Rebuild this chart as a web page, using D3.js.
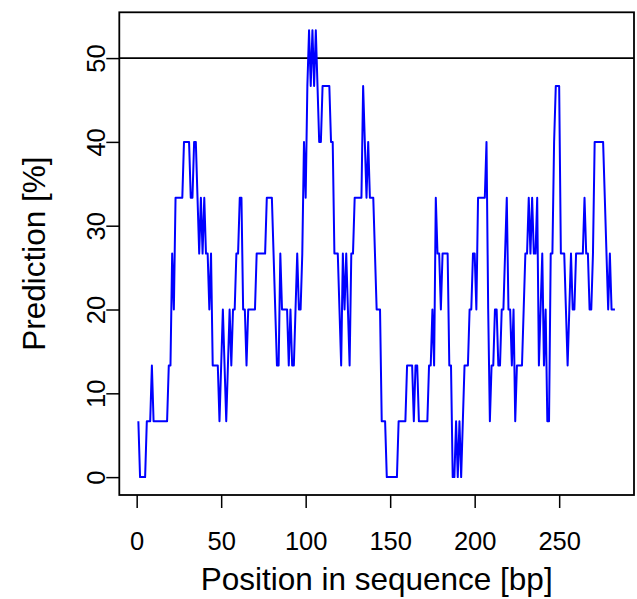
<!DOCTYPE html>
<html>
<head>
<meta charset="utf-8">
<script src="https://cdn.jsdelivr.net/npm/d3@7"></script>
<style>
    body { margin: 0; background: #fff; }
    svg { display: block; font-family: "Liberation Sans", Arial, sans-serif; }
    .axis text { font-size: 25.5px; fill: #000; }
    .axis line { stroke: #000; stroke-width: 1.5px; }
</style>
</head>
<body>
<div class="chart"></div>
<script>
// prediction along the sequence, in percent (positions 1..283)
var prediction = [
    6.67, 0, 0, 0, 0, 6.67, 6.67, 6.67, 13.33, 6.67,
    6.67, 6.67, 6.67, 6.67, 6.67, 6.67, 6.67, 6.67, 13.33, 13.33,
    26.67, 20, 33.33, 33.33, 33.33, 33.33, 33.33, 40, 40, 40,
    40, 33.33, 33.33, 40, 40, 33.33, 26.67, 33.33, 26.67, 33.33,
    26.67, 26.67, 20, 26.67, 13.33, 13.33, 13.33, 13.33, 6.67, 13.33,
    20, 13.33, 6.67, 13.33, 20, 13.33, 20, 20, 26.67, 26.67,
    33.33, 33.33, 20, 20, 13.33, 20, 20, 20, 20, 20,
    26.67, 26.67, 26.67, 26.67, 26.67, 26.67, 33.33, 33.33, 33.33, 33.33,
    26.67, 20, 13.33, 13.33, 26.67, 20, 20, 20, 20, 13.33,
    20, 13.33, 13.33, 20, 26.67, 20, 20, 26.67, 40, 33.33,
    46.67, 53.33, 46.67, 53.33, 46.67, 53.33, 46.67, 40, 40, 46.67,
    46.67, 46.67, 46.67, 46.67, 40, 40, 26.67, 26.67, 26.67, 20,
    13.33, 26.67, 20, 26.67, 20, 13.33, 26.67, 26.67, 33.33, 33.33,
    33.33, 33.33, 33.33, 46.67, 40, 33.33, 40, 33.33, 33.33, 33.33,
    26.67, 20, 20, 20, 6.67, 6.67, 6.67, 0, 0, 0,
    0, 0, 0, 0, 6.67, 6.67, 6.67, 6.67, 6.67, 13.33,
    13.33, 13.33, 13.33, 6.67, 13.33, 13.33, 6.67, 6.67, 6.67, 6.67,
    6.67, 6.67, 13.33, 13.33, 20, 13.33, 33.33, 26.67, 26.67, 20,
    26.67, 26.67, 26.67, 26.67, 13.33, 13.33, 0, 0, 6.67, 0,
    6.67, 0, 6.67, 13.33, 13.33, 13.33, 20, 20, 26.67, 26.67,
    20, 33.33, 33.33, 33.33, 33.33, 33.33, 40, 20, 6.67, 13.33,
    13.33, 20, 20, 13.33, 13.33, 20, 20, 26.67, 33.33, 20,
    20, 13.33, 20, 6.67, 13.33, 13.33, 13.33, 13.33, 20, 26.67,
    26.67, 33.33, 26.67, 33.33, 26.67, 26.67, 33.33, 13.33, 20, 26.67,
    13.33, 20, 6.67, 6.67, 26.67, 26.67, 40, 46.67, 46.67, 46.67,
    26.67, 26.67, 26.67, 20, 13.33, 20, 26.67, 20, 20, 26.67,
    26.67, 26.67, 26.67, 26.67, 33.33, 26.67, 26.67, 20, 20, 26.67,
    40, 40, 40, 40, 40, 40, 33.33, 26.67, 20, 26.67,
    20, 20, 20
];
var xTicks = [0, 50, 100, 150, 200, 250];
var yTicks = [0, 10, 20, 30, 40, 50];
var threshold = 50;
var xTitle = "Position in sequence [bp]";
var yTitle = "Prediction [%]";

var width = 637, height = 599;
var margin = { left: 119.3, right: 3, top: 12.3, bottom: 104 };
var w = width - margin.left - margin.right;
var h = height - margin.top - margin.bottom;

var data = prediction.map(function (d, i) {
    return { x: i + 1, y: d };
});

// R style: pad the data range by 4% on each side
var xExt = d3.extent(data, function (d) { return d.x; });
var yExt = d3.extent(data, function (d) { return d.y; });
var xPad = (xExt[1] - xExt[0]) * 0.04;
var yPad = (yExt[1] - yExt[0]) * 0.04;

var xScale = d3.scaleLinear()
    .domain([xExt[0] - xPad, xExt[1] + xPad])
    .range([0, w]);

var yScale = d3.scaleLinear()
    .domain([yExt[0] - yPad, yExt[1] + yPad])
    .range([h, 0]);

var svg = d3.select(".chart").append("svg")
    .attr("width", width)
    .attr("height", height)
    .append("g")
    .attr("transform", "translate(" + margin.left + "," + margin.top + ")");

var xAxis = svg.append("g")
    .attr("class", "x axis")
    .attr("transform", "translate(0," + h + ")")
    .call(d3.axisBottom(xScale).tickValues(xTicks).tickSize(13).tickFormat(d3.format("d")));
xAxis.select(".domain").remove();
xAxis.selectAll("text")
    .attr("y", 55)
    .attr("dy", 0);

var yAxis = svg.append("g")
    .attr("class", "y axis")
    .call(d3.axisLeft(yScale).tickValues(yTicks).tickSize(13).tickFormat(d3.format("d")));
yAxis.select(".domain").remove();
yAxis.selectAll("text")
    .attr("text-anchor", "middle")
    .attr("x", 0)
    .attr("dy", 0)
    .attr("transform", "translate(-14,0) rotate(-90)");

svg.append("line")
    .attr("x1", 0)
    .attr("x2", w)
    .attr("y1", yScale(threshold))
    .attr("y2", yScale(threshold))
    .attr("stroke", "#000")
    .attr("stroke-width", 1.8);

var line = d3.line()
    .x(function (d) { return xScale(d.x); })
    .y(function (d) { return yScale(d.y); });

svg.append("path")
    .datum(data)
    .attr("fill", "none")
    .attr("stroke", "#0000ff")
    .attr("stroke-width", 2)
    .attr("stroke-linejoin", "round")
    .attr("d", line);

svg.append("rect")
    .attr("width", w)
    .attr("height", h)
    .attr("fill", "none")
    .attr("stroke", "#000")
    .attr("stroke-width", 1.8);

svg.append("text")
    .attr("x", w / 2)
    .attr("y", h + 95)
    .attr("text-anchor", "middle")
    .style("font-size", "31.5px")
    .text(xTitle);

svg.append("text")
    .attr("transform", "translate(" + (-74) + "," + (h / 2) + ") rotate(-90)")
    .attr("text-anchor", "middle")
    .style("font-size", "31.5px")
    .text(yTitle);
</script>
</body>
</html>
